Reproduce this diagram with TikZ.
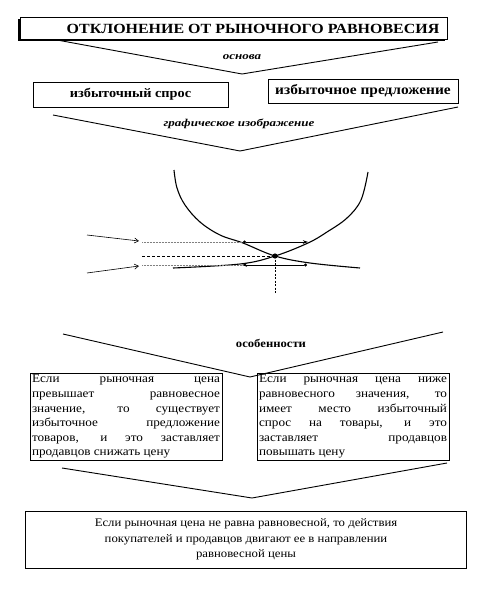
\documentclass[tikz,border=0pt]{standalone}
\usepackage{fontspec}
\setmainfont{Liberation Serif}
\newfontfamily\wideserif[FakeStretch=1.1]{Liberation Serif}
\newfontfamily\titleserif[FakeStretch=1.14]{Liberation Serif}
\newfontfamily\lblserif[FakeStretch=1.24]{Liberation Serif}
\usetikzlibrary{arrows.meta,shadows}
\begin{document}
\begin{tikzpicture}[x=1pt,y=-1pt,
  every node/.style={inner sep=0pt, outer sep=0pt},
  chev/.style={line width=0.9pt},
  plainbox/.style={draw, line width=0.6pt, fill=white},
  lbl/.style={font=\lblserif\fontsize{10.5}{12}\selectfont\bfseries\itshape},
  curve/.style={line width=1.1pt},
  featbox/.style={draw, line width=0.6pt, anchor=north west, inner sep=2pt, text width=188pt, align=justify, font=\wideserif\fontsize{12}{14.6}\selectfont},
]
\useasboundingbox (0,0) rectangle (493,589);

% title
\node[plainbox, minimum width=427pt, minimum height=22pt, line width=0.8pt,
  drop shadow={shadow xshift=-2.2pt, shadow yshift=-2.2pt, fill=black, opacity=1}]
  (title) at (233.5,28) {};
\node[font=\titleserif\fontsize{14}{16}\selectfont\bfseries] (titletext) at (253,28.5) {ОТКЛОНЕНИЕ ОТ РЫНОЧНОГО РАВНОВЕСИЯ};

% chevron 1
\coordinate (c1l) at (57,40); \coordinate (c1v) at (242,74); \coordinate (c1r) at (438,42);
\draw[chev] (c1l) -- (c1v) -- (c1r);
\node[lbl] (osnova) at (242,57) {основа};

% two boxes
\node[plainbox, minimum width=195pt, minimum height=25pt, font=\wideserif\fontsize{13}{14}\selectfont\bfseries] (spros) at (130.5,94.5) {избыточный спрос};
\node[plainbox, minimum width=190pt, minimum height=24pt, font=\wideserif\fontsize{14}{15}\selectfont\bfseries] (predl) at (363,91) {избыточное предложение};

% chevron 2
\coordinate (c2l) at (53,115); \coordinate (c2v) at (240,151); \coordinate (c2r) at (458,107);
\draw[chev] (c2l) -- (c2v) -- (c2r);
\node[lbl] (graf) at (239,124) {графическое изображение};

% graph
\coordinate (E) at (275,256);
\draw[curve] plot[smooth, tension=0.6] coordinates {(174,170) (177,188) (185,205) (200,222) (220,235) (243,243) (275,256) (310,263) (360,268)};
\draw[curve] plot[smooth, tension=0.6] coordinates {(368,172) (361,200) (347,218) (327,232) (308,243) (275,256) (240,264) (173,268)};
\coordinate (u0) at (142,242); \coordinate (u1) at (243,242); \coordinate (u2) at (308,242);
\coordinate (l0) at (142,265); \coordinate (l1) at (242,265); \coordinate (l2) at (307,265);
\coordinate (m0) at (142,256); \coordinate (vb) at (275,293);
\draw[densely dotted, line width=0.5pt, gray] (u0) -- (u1);
\draw[densely dotted, line width=0.5pt, gray] (l0) -- (l1);
\draw[dashed, line width=0.7pt, dash pattern=on 3pt off 2pt] (m0) -- (E);
\draw[dashed, line width=0.7pt, dash pattern=on 2pt off 1.5pt] (E) -- (vb);
\draw[line width=0.9pt, {Circle[length=3pt]}-{Stealth[length=5pt,width=3.5pt]}] (u1) -- (u2);
\draw[line width=0.9pt, {Stealth[length=5pt,width=3.5pt]}-{Circle[length=3pt]}] (l1) -- (l2);
\fill (E) circle (2.6pt);
\coordinate (a1s) at (87,235); \coordinate (a1e) at (139,241);
\coordinate (a2s) at (87,273); \coordinate (a2e) at (139,266);
\draw[line width=0.6pt, -{Straight Barb[length=4pt,width=5pt]}] (a1s) -- (a1e);
\draw[line width=0.6pt, -{Straight Barb[length=4pt,width=5pt]}] (a2s) -- (a2e);

% chevron 3
\coordinate (c3l) at (63,334); \coordinate (c3v) at (250,377); \coordinate (c3r) at (443,332);
\draw[chev] (c3l) -- (c3v) -- (c3r);
\node[font=\wideserif\fontsize{11.5}{12}\selectfont\bfseries] (osob) at (271,343) {особенности};

% feature boxes
\node[featbox] (left) at (30,373) {Если рыночная цена\linebreak
превышает равновесное\linebreak
значение, то существует\linebreak
избыточное предложение\linebreak
товаров, и это заставляет\linebreak
продавцов снижать цену};
\node[featbox] (right) at (257,373) {Если рыночная цена ниже\linebreak
равновесного значения, то\linebreak
имеет место избыточный\linebreak
спрос на товары, и это\linebreak
заставляет продавцов\linebreak
повышать цену};

% chevron 4
\coordinate (c4l) at (62,468); \coordinate (c4v) at (252,498); \coordinate (c4r) at (447,463);
\draw[chev] (c4l) -- (c4v) -- (c4r);

% bottom box
\node[plainbox, minimum width=441pt, minimum height=57pt, align=center, font=\wideserif\fontsize{11.6}{15.5}\selectfont] (bottom) at (246,539.5) {Если рыночная цена не равна равновесной, то действия\\
покупателей и продавцов двигают ее в направлении\\
равновесной цены};
\end{tikzpicture}
\end{document}
